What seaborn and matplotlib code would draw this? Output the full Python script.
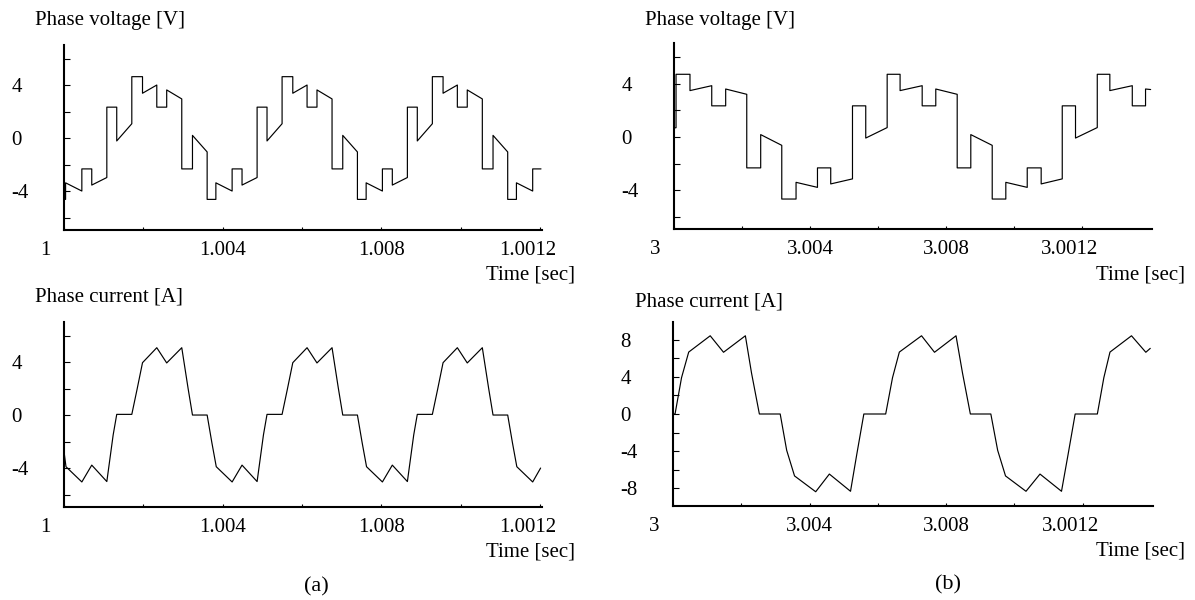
import numpy as np
import matplotlib
matplotlib.use('Agg')
import matplotlib.pyplot as plt
import matplotlib.transforms as mtransforms
import seaborn as sns

sns.set_theme(style='ticks')
plt.rcParams['font.family'] = ['Liberation Serif', 'DejaVu Serif']
plt.rcParams['font.size'] = 15

# ---------------- data (time offsets in ms) ----------------
# (a) phase voltage, starting at t = 1 s
va_ms = [0.00, 0.04, 0.04, 0.45, 0.45, 0.70, 0.70, 1.08, 1.08, 1.33, 1.33, 1.71, 1.71,
         1.98, 1.98, 2.34, 2.34, 2.59, 2.59, 2.97, 2.97, 3.24, 3.24, 3.61, 3.61,
         3.83, 3.83, 4.24, 4.24, 4.49, 4.49, 4.87, 4.87, 5.12, 5.12, 5.50, 5.50,
         5.77, 5.77, 6.13, 6.13, 6.38, 6.38, 6.76, 6.76, 7.03, 7.03, 7.40, 7.40,
         7.62, 7.62, 8.03, 8.03, 8.28, 8.28, 8.66, 8.66, 8.91, 8.91, 9.29, 9.29,
         9.56, 9.56, 9.92, 9.92, 10.17, 10.17, 10.55, 10.55, 10.82, 10.82, 11.19, 11.19,
         11.41, 11.41, 11.82, 11.82, 12.03]
va_v = [-4.63, -4.63, -3.38, -4.00, -2.33, -2.33, -3.55, -2.98, 2.33, 2.33, -0.22, 1.08, 4.63,
        4.63, 3.38, 4.00, 2.33, 2.33, 3.63, 2.95, -2.33, -2.33, 0.20, -1.05, -4.63,
        -4.63, -3.38, -4.00, -2.33, -2.33, -3.55, -2.98, 2.33, 2.33, -0.22, 1.08, 4.63,
        4.63, 3.38, 4.00, 2.33, 2.33, 3.63, 2.95, -2.33, -2.33, 0.20, -1.05, -4.63,
        -4.63, -3.38, -4.00, -2.33, -2.33, -3.55, -2.98, 2.33, 2.33, -0.22, 1.08, 4.63,
        4.63, 3.38, 4.00, 2.33, 2.33, 3.63, 2.95, -2.33, -2.33, 0.20, -1.05, -4.63,
        -4.63, -3.38, -4.00, -2.33, -2.33]

# (a) phase current
ia_ms = [0.00, 0.05, 0.45, 0.70, 1.08, 1.24, 1.33, 1.71, 1.84, 1.98, 2.34, 2.59, 2.97, 3.13, 3.24, 3.61, 3.73,
         3.84, 4.24, 4.49, 4.87, 5.03, 5.12, 5.50, 5.63, 5.77, 6.13, 6.38, 6.76, 6.92, 7.03, 7.40, 7.52,
         7.63, 8.03, 8.28, 8.66, 8.82, 8.91, 9.29, 9.42, 9.56, 9.92, 10.17, 10.55, 10.71, 10.82, 11.19, 11.31,
         11.42, 11.82, 12.02]
ia_i = [-2.75, -3.90, -5.05, -3.78, -5.02, -1.50, 0.05, 0.05, 1.90, 3.95, 5.08, 3.93, 5.08, 2.00, 0.00, 0.00, -2.10,
        -3.90, -5.05, -3.78, -5.02, -1.50, 0.05, 0.05, 1.90, 3.95, 5.08, 3.93, 5.08, 2.00, 0.00, 0.00, -2.10,
        -3.90, -5.05, -3.78, -5.02, -1.50, 0.05, 0.05, 1.90, 3.95, 5.08, 3.93, 5.08, 2.00, 0.00, 0.00, -2.10,
        -3.90, -5.05, -4.00]

# (b) phase voltage, starting at t = 3 s
vb_ms = [0.00, 0.06, 0.06, 0.47, 0.47, 1.11, 1.11, 1.52, 1.52, 2.14, 2.14, 2.55, 2.55, 3.17, 3.17,
         3.59, 3.59, 4.22, 4.22, 4.61, 4.61, 5.25, 5.25, 5.64, 5.64, 6.27, 6.27,
         6.65, 6.65, 7.30, 7.30, 7.70, 7.70, 8.33, 8.33, 8.73, 8.73, 9.36, 9.36,
         9.76, 9.76, 10.39, 10.39, 10.80, 10.80, 11.42, 11.42, 11.81, 11.81, 12.45, 12.45,
         12.82, 12.82, 13.48, 13.48, 13.87, 13.87, 14.02]
vb_v = [0.68, 0.70, 4.73, 4.73, 3.50, 3.87, 2.35, 2.35, 3.62, 3.22, -2.33, -2.33, 0.18, -0.63, -4.68,
        -4.68, -3.42, -3.80, -2.33, -2.33, -3.54, -3.16, 2.35, 2.35, -0.08, 0.71, 4.73,
        4.73, 3.50, 3.87, 2.35, 2.35, 3.62, 3.22, -2.33, -2.33, 0.18, -0.63, -4.68,
        -4.68, -3.42, -3.80, -2.33, -2.33, -3.54, -3.16, 2.35, 2.35, -0.08, 0.71, 4.73,
        4.73, 3.50, 3.87, 2.35, 2.35, 3.62, 3.58]

# (b) phase current
ib_ms = [0.00, 0.06, 0.25, 0.46, 1.09, 1.48, 2.12, 2.30, 2.53, 3.14, 3.33, 3.56, 4.18, 4.58, 5.20,
         5.38, 5.59, 6.23, 6.43, 6.63, 7.28, 7.66, 8.29, 8.48, 8.71, 9.31, 9.51, 9.74, 10.34, 10.75,
         11.38, 11.57, 11.78, 12.43, 12.62, 12.80, 13.43, 13.85, 13.98]
ib_i = [0.00, 0.00, 3.90, 6.65, 8.40, 6.63, 8.40, 4.40, 0.00, 0.00, -3.90, -6.65, -8.35, -6.45, -8.30,
        -4.40, 0.00, 0.00, 3.90, 6.65, 8.40, 6.63, 8.40, 4.40, 0.00, 0.00, -3.90, -6.65, -8.30, -6.45,
        -8.30, -4.40, 0.00, 0.00, 3.90, 6.65, 8.40, 6.63, 7.05]

# ticks
xa_ticks = [1.000, 1.002, 1.004, 1.006, 1.008, 1.010, 1.012]
xa_labels = ['1', '', '1.004', '', '1.008', '', '1.0012']
xb_ticks = [3.000, 3.002, 3.004, 3.006, 3.008, 3.010, 3.012]
xb_labels = ['3', '', '3.004', '', '3.008', '', '3.0012']
yv_ticks = [-6, -4, -2, 0, 2, 4, 6]
yv_labels = ['', '-4', '', '0', '', '4', '']
yib_ticks = [-8, -6, -4, -2, 0, 2, 4, 6, 8]
yib_labels = ['-8', '', '-4', '', '0', '', '4', '', '8']

W, H = 1195, 600
fig = plt.figure(figsize=(W / 100, H / 100), dpi=100)
fig.patch.set_facecolor('white')


def px_axes(l, t, r, b):
    return fig.add_axes([l / W, 1 - b / H, (r - l) / W, (b - t) / H])


def draw(ax, t0, ms, vals, xlim, ylim, xt, xl, yt, yl):
    t = t0 + np.asarray(ms) / 1000.0
    sns.lineplot(x=t, y=np.asarray(vals), ax=ax, color='black', linewidth=0.85,
                 estimator=None, sort=False)
    ax.set_xlim(*xlim)
    ax.set_ylim(*ylim)
    ax.set_xlabel('')
    ax.set_ylabel('')
    ax.set_facecolor('white')
    for s in ['top', 'right']:
        ax.spines[s].set_visible(False)
    for s in ['left', 'bottom']:
        ax.spines[s].set_linewidth(1.5)
        ax.spines[s].set_color('black')
    ax.set_xticks(xt, xl)
    ax.set_yticks(yt, yl)
    ax.tick_params(axis='x', direction='in', length=2.5, width=0.8, pad=8,
                   labelsize=15, colors='black')
    ax.tick_params(axis='y', direction='in', length=4, width=0.8, pad=38,
                   labelsize=15, colors='black')
    for lab in ax.get_yticklabels():
        lab.set_horizontalalignment('left')
    labs = ax.get_xticklabels()
    shifts = {0: -19, len(labs) - 1: -12}
    for i, dx in shifts.items():
        labs[i].set_transform(labs[i].get_transform() +
                              mtransforms.ScaledTranslation(dx / 100, 0, fig.dpi_scale_trans))


axA1 = px_axes(64, 45, 542, 230)
axA2 = px_axes(64, 322, 542, 507)
axB1 = px_axes(674, 43, 1152, 229)
axB2 = px_axes(673, 322, 1153, 506)

draw(axA1, 1.0, va_ms, va_v, (1.0, 1.012055), (-6.94, 7.02), xa_ticks, xa_labels, yv_ticks, yv_labels)
draw(axA2, 1.0, ia_ms, ia_i, (1.0, 1.012055), (-6.94, 7.02), xa_ticks, xa_labels, yv_ticks, yv_labels)
draw(axB1, 3.0, vb_ms, vb_v, (3.0, 3.01406), (-6.94, 7.09), xb_ticks, xb_labels, yv_ticks, yv_labels)
draw(axB2, 3.0, ib_ms, ib_i, (3.0, 3.01406), (-9.88, 9.88), xb_ticks, xb_labels, yib_ticks, yib_labels)


def ftext(x, y, s, ha='left', size=15):
    fig.text(x / W, 1 - y / H, s, ha=ha, va='center', fontsize=size, color='black')


ftext(35, 21, 'Phase voltage [V]')
ftext(645, 21, 'Phase voltage [V]')
ftext(35, 297, 'Phase current [A]')
ftext(635, 302, 'Phase current [A]')
ftext(575, 275, 'Time [sec]', ha='right')
ftext(575, 552, 'Time [sec]', ha='right')
ftext(1185, 275, 'Time [sec]', ha='right')
ftext(1185, 551, 'Time [sec]', ha='right')
ftext(316, 587, '(a)', ha='center', size=16)
ftext(948, 585, '(b)', ha='center', size=16)

fig.savefig('out.png', dpi=100, facecolor='white')
